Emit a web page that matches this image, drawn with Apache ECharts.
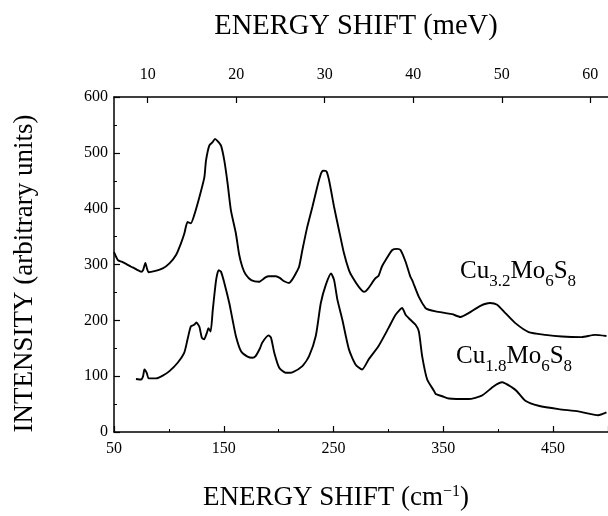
<!DOCTYPE html>
<html><head><meta charset="utf-8">
<script src="https://cdn.jsdelivr.net/npm/echarts@6/dist/echarts.min.js"></script>
<style>html,body{margin:0;padding:0;background:#fff}#c{width:608px;height:516px}</style>
</head><body><div id="c"></div>
<script>
// Cu3.2Mo6S8 spectrum: [energy shift cm^-1, intensity]
const cu32 = [[50,322],[53.5,308],[57,305],[61,301],[65.6,296],[68,294],[71.6,290],[74.7,287],[76.5,290],[78.6,303],[80,293],[81.6,286],[86.8,288],[94.4,293],[100.5,302],[106.5,317],[111,338],[114,355],[117,376],[120,374],[123,388],[127.7,420],[132.3,456],[133.8,486],[136.8,513],[139.8,519],[142,525],[144.4,521],[147.5,513],[150.5,486],[153.5,445],[156.5,397],[161,356],[164,318],[167,295],[170,282],[175,272],[182,269],[188,277],[191,279],[197.5,279],[201,276],[205,270],[209.5,267],[212,272],[215.6,284],[218.6,296],[221.6,326],[226,367],[230.7,403],[235,438],[238.4,462],[240.5,468],[243.5,467],[246,450],[250.5,403],[255,361],[259.5,320],[264,290],[267,278],[273,260],[277.7,251],[280.7,255],[288,275],[291,280],[294,296],[297.5,308],[303.5,326],[308,328],[311,326],[315.6,305],[320,278],[321.6,272],[327.7,242],[333.8,222],[336.8,219],[343,216],[352,213],[358,211],[365.6,206],[373,213],[383.8,226],[392.5,231],[399,228],[406.5,213],[415.6,195],[427.7,179],[442.9,174],[458,171],[476,170],[488,174],[498.6,172]];
// Cu1.8Mo6S8 spectrum
const cu18 = [[70,95],[74.7,94],[76.5,100],[77.7,112],[79.8,106],[81.6,96],[88.3,96],[94.4,101],[100.5,109],[108,124],[114,142],[117,166],[120,189],[123,192],[125,196],[127.7,189],[130,169],[132,166],[135,180],[136,186],[138,180],[140,219],[143,272],[145.3,290],[147.5,287],[150.5,267],[155,231],[158,201],[161,172],[165.6,145],[171.6,135],[176,133],[179,136],[183,150],[185,160],[190.7,173],[193,169],[196,142],[200.5,115],[206.5,106],[212.5,107],[221.6,118],[227.7,136],[233.8,172],[238.4,231],[243,264],[247.7,284],[250.5,272],[253.5,237],[258,201],[264,148],[270,121],[276,112],[282,130],[291,154],[300,186],[306.5,210],[312.5,222],[315.6,210],[320,201],[324.7,192],[327.7,180],[330.7,136],[335.3,94],[341.4,74],[343,68],[349,64],[355,60],[373,59],[385,65],[396,82],[403.5,89],[412.5,80],[417,73],[424.7,56],[436.8,47],[455,41],[473,37],[491,30],[498.6,35]];
const topTickMeV = [10,20,30,40,50,60];
const CM_PER_MEV = 8.0655;
const xRange = [50,500];
const yRange = [0,600];

const F = 'Liberation Serif, Times New Roman, serif';
const chart = echarts.init(document.getElementById('c'), null, {renderer:'canvas'});
const axisLine = {show:true, lineStyle:{color:'#000', width:1.5}};
const labelRich = (a) => ({
  text:a,
  rich:{a:{fontFamily:F, fontSize:25, fill:'#000', lineHeight:26, verticalAlign:'top'},
        s:{fontFamily:F, fontSize:17, fill:'#000', lineHeight:17, verticalAlign:'top', padding:[14,0,0,0]}}
});
chart.setOption({
  animation:false,
  backgroundColor:'#fff',
  grid:{left:114, top:97, width:495, height:336, containLabel:false},
  xAxis:[{
    type:'value', min:xRange[0], max:xRange[1], interval:100, position:'bottom',
    axisLine, splitLine:{show:false},
    axisTick:{inside:true, length:6, lineStyle:{color:'#000', width:1.2}},
    minorTick:{show:true, splitNumber:2, length:3, lineStyle:{color:'#000', width:1}},
    axisLabel:{color:'#000', fontFamily:F, fontSize:16, margin:9, showMaxLabel:false},
    name:'{a|ENERGY SHIFT (cm}{s|−1}{a|)}', nameLocation:'middle', nameGap:52,
    nameTextStyle:{padding:[0,50,0,0], rich:{a:{fontFamily:F, fontSize:27, color:'#000', lineHeight:30, verticalAlign:'top'},
                         s:{fontFamily:F, fontSize:16, color:'#000', lineHeight:16, verticalAlign:'top', padding:[0,0,10,0]}}}
  },{
    type:'value', min:xRange[0], max:xRange[1], position:'top',
    axisLine, splitLine:{show:false},
    axisTick:{inside:true, length:6, lineStyle:{color:'#000', width:1.2},
      customValues: topTickMeV.map(m=>m*CM_PER_MEV)},
    axisLabel:{color:'#000', fontFamily:F, fontSize:16, margin:14,
      customValues: topTickMeV.map(m=>m*CM_PER_MEV),
      formatter:v=>String(Math.round(v/CM_PER_MEV))},
    name:'ENERGY SHIFT (meV)', nameLocation:'middle', nameGap:56,
    nameTextStyle:{fontFamily:F, fontSize:28.5, color:'#000', padding:[0,10,0,0]}
  }],
  yAxis:{
    type:'value', min:yRange[0], max:yRange[1], interval:100,
    axisLine, splitLine:{show:false},
    axisTick:{inside:true, length:6, lineStyle:{color:'#000', width:1.2}},
    minorTick:{show:true, splitNumber:2, length:3, lineStyle:{color:'#000', width:1}},
    axisLabel:{color:'#000', fontFamily:F, fontSize:16, margin:6},
    name:'INTENSITY (arbitrary units)', nameLocation:'middle', nameGap:76,
    nameTextStyle:{fontFamily:F, fontSize:27, color:'#000', padding:[0,18,0,0]}
  },
  series:[
    {type:'line', name:'Cu3.2Mo6S8', data:cu32, showSymbol:false, smooth:0.2, lineStyle:{color:'#000', width:1.9}, xAxisIndex:0},
    {type:'line', name:'Cu1.8Mo6S8', data:cu18, showSymbol:false, smooth:0.2, lineStyle:{color:'#000', width:1.9}, xAxisIndex:0}
  ],
  graphic:[
    {type:'text', left:460, top:259, style:labelRich('{a|Cu}{s|3.2}{a|Mo}{s|6}{a|S}{s|8}')},
    {type:'text', left:456, top:344, style:labelRich('{a|Cu}{s|1.8}{a|Mo}{s|6}{a|S}{s|8}')}
  ]
});
</script></body></html>
